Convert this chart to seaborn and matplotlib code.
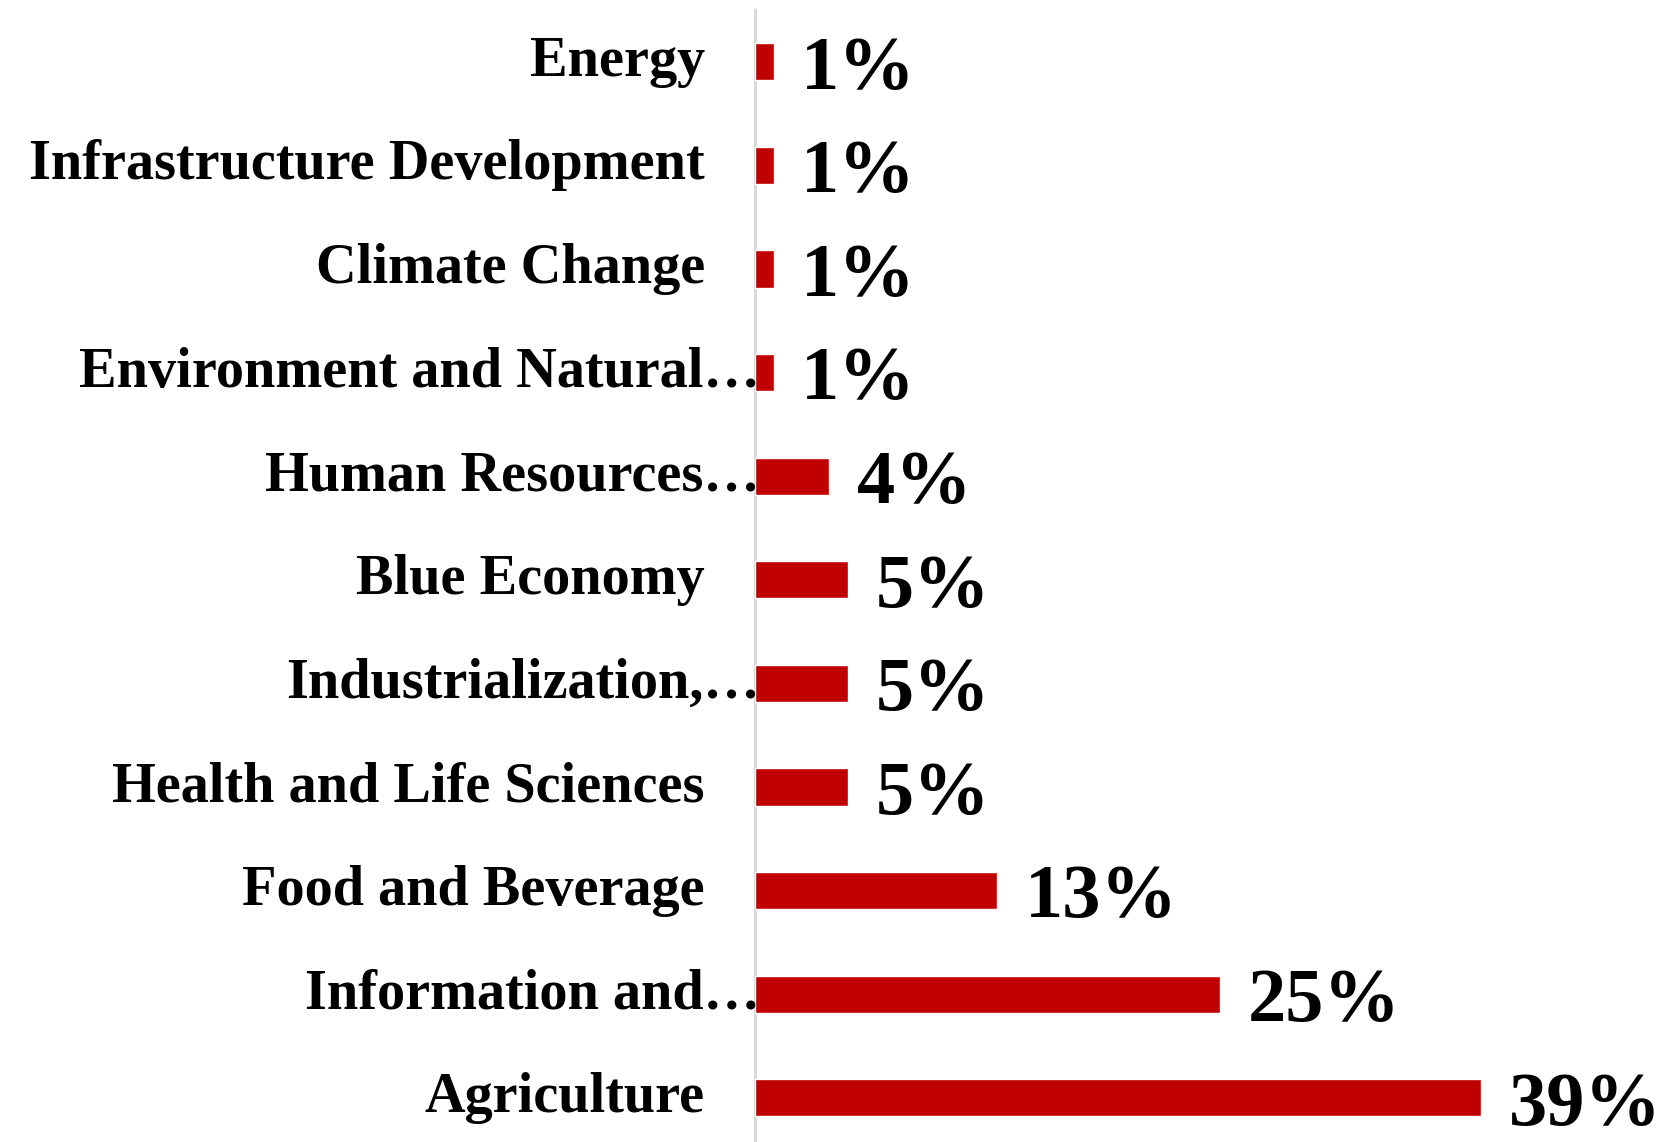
import matplotlib
matplotlib.use("Agg")
import matplotlib.pyplot as plt
import matplotlib.transforms as mtransforms
import seaborn as sns
import pandas as pd

# Share of projects by thematic area (percent), top to bottom
categories = [
    "Energy",
    "Infrastructure Development",
    "Climate Change",
    "Environment and Natural…",
    "Human Resources…",
    "Blue Economy",
    "Industrialization,…",
    "Health and Life Sciences",
    "Food and Beverage",
    "Information and…",
    "Agriculture",
]
shares = [1, 1, 1, 1, 4, 5, 5, 5, 13, 25, 39]
value_labels = [f"{v}%" for v in shares]

df = pd.DataFrame({"area": categories, "share": shares})

sns.set_style("white")
plt.rcParams["font.family"] = ["Liberation Serif", "DejaVu Serif"]
plt.rcParams["font.weight"] = "bold"

BAR_RED = "#C00000"
AXIS_GREY = "#D9D9D9"

fig = plt.figure(figsize=(16.67, 11.42), dpi=100)
ax = fig.add_axes([0.4529, -0.0067, 0.5471, 0.9979])

sns.barplot(data=df, x="share", y="area", order=categories, color=BAR_RED,
            saturation=1, width=0.36, orient="h", ax=ax)

ax.set_xlim(0, 49)
ax.set_ylim(10.5, -0.5)
ax.set_xlabel("")
ax.set_ylabel("")
ax.set_xticks([])

for side in ("top", "right", "bottom"):
    ax.spines[side].set_visible(False)
ax.spines["left"].set_color(AXIS_GREY)
ax.spines["left"].set_linewidth(2.2)
ax.spines["left"].set_zorder(0)

# Category labels: full names sit left of the axis, truncated names run up to it
ax.set_yticks(range(len(categories)))
ax.set_yticklabels([])
ax.tick_params(axis="y", length=0)
label_trans = mtransforms.blended_transform_factory(ax.transAxes, ax.transData)
for i, name in enumerate(categories):
    truncated = name.endswith("…")
    offset = 5 if truncated else -50
    ax.text(0, i, name,
            transform=label_trans + mtransforms.ScaledTranslation(offset / 100, 0, fig.dpi_scale_trans),
            ha="right", va="center", fontsize=40.5, fontweight="bold", color="black")

value_texts = ax.bar_label(ax.containers[0], labels=value_labels, padding=20,
                           fontsize=55, fontweight="bold", color="black")
# Sit the value labels a little below the bar centre line
for t in value_texts:
    t.xyann = (t.xyann[0], -6)

fig.savefig("out.png", dpi=100)
